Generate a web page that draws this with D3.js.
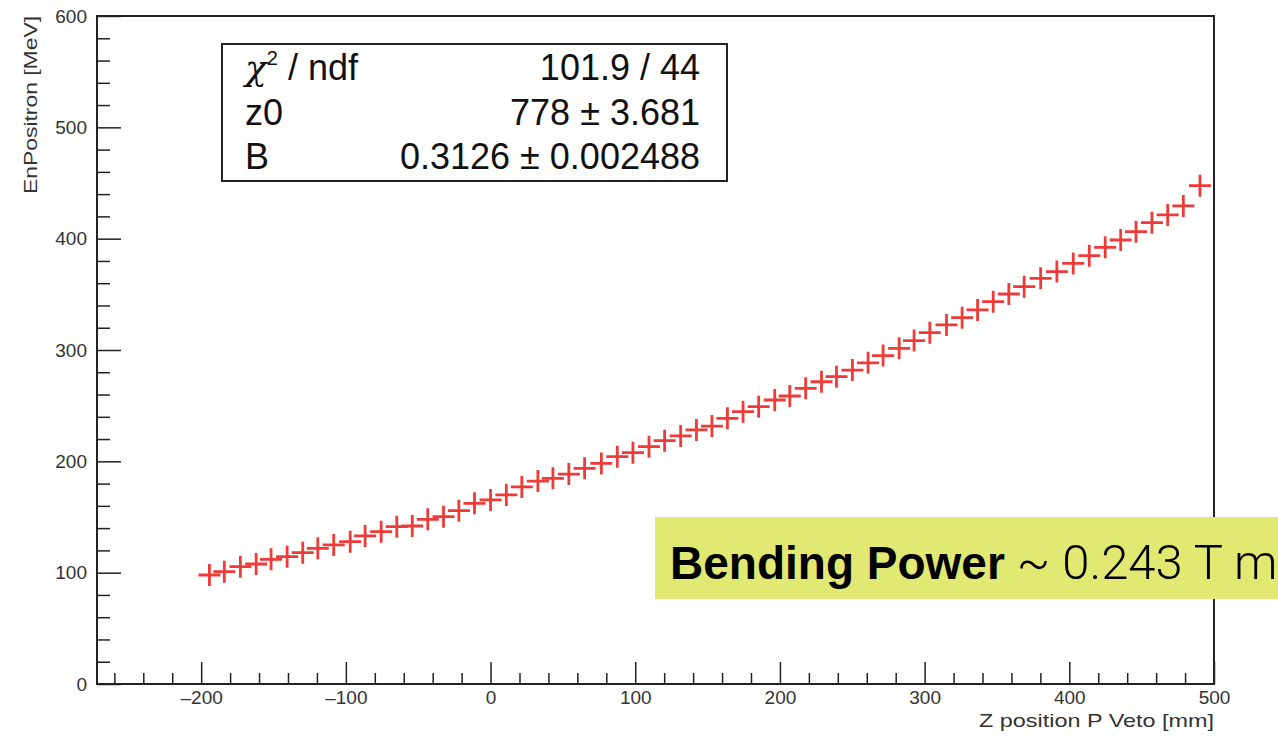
<!DOCTYPE html>
<html>
<head>
<meta charset="utf-8">
<script src="https://cdn.jsdelivr.net/npm/d3@7"></script>
<style>
  body { margin: 0; background: #fff; }
</style>
</head>
<body>
<div id="chart"></div>
<script>
// measured points: Z position P Veto [mm] vs EnPositron [MeV]
var zPos = [-194.3, -184.0, -172.9, -162.0, -151.7, -140.6, -129.8, -119.4, -108.4, -97.0,
  -86.7, -75.6, -64.8, -54.1, -43.4, -32.5, -21.9, -11.1, 0.0, 10.9, 21.6,
  32.7, 43.1, 54.1, 65.0, 76.6, 87.6, 98.4, 109.5, 120.3, 131.4, 142.3, 153.0, 163.7,
  174.5, 185.3, 196.4, 206.8, 217.8, 228.7, 239.1, 250.1,
  260.9, 271.3, 282.4, 292.7, 303.6, 315.1, 325.9, 336.6, 347.4, 358.2, 368.8, 380.2,
  391.4, 402.7, 413.8, 424.8, 435.5, 446.1, 457.1, 468.0, 478.8, 490.3];
var enPositron = [97.9, 100.9, 105.4, 107.8, 112.0, 114.4, 118.0, 121.9, 124.9, 127.8,
  133.0, 136.8, 141.3, 141.9, 147.9, 150.3, 155.7, 162.3, 165.3, 169.8, 177.0,
  182.3, 184.7, 188.6, 193.7, 198.1, 204.2, 207.8, 213.2, 218.6, 222.8, 228.2, 231.7, 238.6,
  244.6, 249.1, 255.1, 258.7, 265.6, 271.5, 276.0, 282.0,
  288.5, 295.0, 301.5, 308.5, 315.6, 322.5, 329.0, 336.0, 343.4, 350.3, 356.9, 364.4,
  370.4, 377.8, 384.7, 392.2, 398.8, 406.3, 414.4, 421.3, 429.4, 447.6];

var xMajor = [-200, -100, 0, 100, 200, 300, 400, 500];
var yMajor = [0, 100, 200, 300, 400, 500, 600];

// fit results shown in the stats box
var statNames = ["z0", "B"];
var statValues = ["778 \u00b1 3.681", "0.3126 \u00b1 0.002488"];
var chi2Text = "101.9 / 44";

var width = 1278, height = 738;
var font = "'Liberation Sans', Arimo, Helvetica, Arial, sans-serif";

var svg = d3.select("#chart").append("svg")
  .attr("width", width)
  .attr("height", height)
  .attr("font-family", font);

svg.append("rect").attr("width", width).attr("height", height).attr("fill", "#fff");

var x = d3.scaleLinear().domain([-272, 500]).range([97, 1214]);
var y = d3.scaleLinear().domain([0, 600]).range([684, 16]);

var fmt = function(d) { return d < 0 ? "\u2013" + Math.abs(d) : d; };

// minor ticks every 20
var xMinor = d3.range(-260, 501, 20).filter(function(d) { return d % 100 != 0; });
var yMinor = d3.range(0, 601, 20).filter(function(d) { return d % 100 != 0; });

svg.append("g")
  .attr("transform", "translate(0," + y(0) + ")")
  .call(d3.axisBottom(x).tickValues(xMinor).tickSizeInner(-11).tickSizeOuter(0).tickFormat(""))
  .call(function(g) { g.select(".domain").remove(); });

var xAxis = svg.append("g")
  .attr("transform", "translate(0," + y(0) + ")")
  .call(d3.axisBottom(x).tickValues(xMajor).tickSizeInner(-22).tickSizeOuter(0).tickPadding(7).tickFormat(fmt));

svg.append("g")
  .attr("transform", "translate(" + x(-272) + ",0)")
  .call(d3.axisLeft(y).tickValues(yMinor).tickSizeInner(-13).tickSizeOuter(0).tickFormat(""))
  .call(function(g) { g.select(".domain").remove(); });

var yAxis = svg.append("g")
  .attr("transform", "translate(" + x(-272) + ",0)")
  .call(d3.axisLeft(y).tickValues(yMajor).tickSizeInner(-24).tickSizeOuter(0).tickPadding(10).tickFormat(fmt));

svg.selectAll(".tick text")
  .attr("font-size", 19).attr("fill", "#333").attr("font-family", font);
svg.selectAll(".tick line").attr("stroke", "#222").attr("stroke-width", 1.5);

// frame
svg.append("rect")
  .attr("x", x(-272)).attr("y", y(600))
  .attr("width", x(500) - x(-272)).attr("height", y(0) - y(600))
  .attr("fill", "none").attr("stroke", "#222").attr("stroke-width", 2);

// axis titles
svg.append("text")
  .attr("x", x(500)).attr("y", 727)
  .attr("text-anchor", "end")
  .attr("font-size", 19).attr("fill", "#333")
  .attr("textLength", 235).attr("lengthAdjust", "spacingAndGlyphs")
  .text("Z position P Veto [mm]");

svg.append("text")
  .attr("transform", "translate(37," + y(600) + ") rotate(-90)")
  .attr("text-anchor", "end")
  .attr("font-size", 18).attr("fill", "#333")
  .attr("textLength", 178).attr("lengthAdjust", "spacingAndGlyphs")
  .text("EnPositron [MeV]");

// data markers
var pts = zPos.map(function(d, i) { return {z: d, e: enPositron[i]}; });
svg.append("g").selectAll("path")
  .data(pts)
  .enter()
  .append("path")
  .attr("transform", function(d) { return "translate(" + x(d.z) + "," + y(d.e) + ")"; })
  .attr("d", "M-11,0H11M0,-11V11")
  .attr("stroke", "#ee3b38")
  .attr("stroke-width", 2.8)
  .attr("fill", "none");

// stats box
var box = svg.append("g");
box.append("rect")
  .attr("x", 222).attr("y", 44).attr("width", 505).attr("height", 137)
  .attr("fill", "#fff").attr("stroke", "#222").attr("stroke-width", 2);

var chi = box.append("text").attr("x", 245).attr("y", 80).attr("font-size", 36).attr("fill", "#111");
chi.append("tspan").attr("font-family", "'DejaVu Serif', serif").attr("font-style", "italic").text("\u03c7");
chi.append("tspan").attr("font-size", 20).attr("dy", -15).text("2");
chi.append("tspan").attr("dy", 15).text(" / ndf");
box.append("text").attr("x", 700).attr("y", 80).attr("text-anchor", "end")
  .attr("font-size", 36).attr("fill", "#111").text(chi2Text);

statNames.forEach(function(n, i) {
  box.append("text").attr("x", 245).attr("y", 125 + i * 44)
    .attr("font-size", 36).attr("fill", "#111").text(n);
  box.append("text").attr("x", 700).attr("y", 125 + i * 44).attr("text-anchor", "end")
    .attr("font-size", 36).attr("fill", "#111").text(statValues[i]);
});

// annotation
svg.append("rect")
  .attr("x", 655).attr("y", 517).attr("width", 640).attr("height", 82)
  .attr("fill", "#e1e973");
var ann = svg.append("text").attr("x", 670).attr("y", 579).attr("font-size", 46).attr("fill", "#000");
ann.append("tspan").attr("font-weight", "bold").text("Bending Power");
ann.append("tspan").attr("font-family", "Roboto, Lato, sans-serif").attr("font-weight", 300)
  .attr("font-size", 49).text(" ~ 0.243 T m");
</script>
</body>
</html>
